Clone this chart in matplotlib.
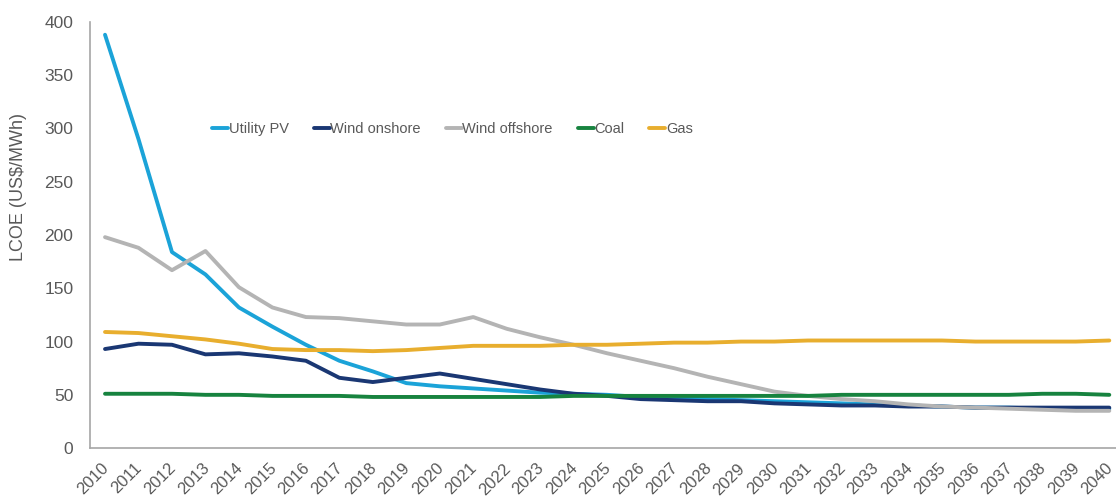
import matplotlib
matplotlib.use("Agg")
import matplotlib.pyplot as plt
from matplotlib.transforms import ScaledTranslation

plt.rcParams["font.family"] = ["Liberation Sans", "DejaVu Sans"]

years = list(range(2010, 2041))
utility_pv = [388, 290, 184, 163, 132, 114, 97, 82, 72, 61, 58, 56, 54, 52, 51, 50, 48, 47, 46,
              45, 44, 43, 42, 41, 40, 39, 38, 38, 37, 37, 37]
wind_onshore = [93, 98, 97, 88, 89, 86, 82, 66, 62, 66, 70, 65, 60, 55, 51, 49, 46, 45, 44,
                44, 42, 41, 40, 40, 39, 39, 38, 38, 38, 38, 38]
wind_offshore = [198, 188, 167, 185, 151, 132, 123, 122, 119, 116, 116, 123, 112, 104, 97, 89,
                 82, 75, 67, 60, 53, 49, 46, 44, 41, 39, 38, 37, 36, 35, 35]
coal = [51, 51, 51, 50, 50, 49, 49, 49, 48, 48, 48, 48, 48, 48, 49, 49, 49, 49, 49, 49, 49, 49,
        50, 50, 50, 50, 50, 50, 51, 51, 50]
gas = [109, 108, 105, 102, 98, 93, 92, 92, 91, 92, 94, 96, 96, 96, 97, 97, 98, 99, 99, 100, 100,
       101, 101, 101, 101, 101, 100, 100, 100, 100, 101]

series = [("Utility PV", utility_pv, "#1ba3d8"),
          ("Wind onshore", wind_onshore, "#1a3773"),
          ("Wind offshore", wind_offshore, "#b4b4b4"),
          ("Coal", coal, "#17833f"),
          ("Gas", gas, "#e8ae2e")]
grey = "#595959"

fig = plt.figure(figsize=(11.16, 4.99), dpi=100)
ax = fig.add_axes([0.0806, 0.102, 0.9194, 0.854])

for lab, vals, col in series:
    ax.plot(years, vals, color=col, lw=2.8, label=lab, solid_capstyle="round")

ax.set_xlim(2009.55, 2040.2)
ax.set_ylim(0, 400)
ax.set_yticks(range(0, 401, 50))
ax.set_xticks(years)
ax.set_xticklabels([str(y) for y in years], rotation=45, ha="right", rotation_mode="anchor")
ax.tick_params(axis="y", length=0, labelsize=12.5, colors=grey, pad=12)
ax.tick_params(axis="x", length=0, labelsize=12, colors=grey, pad=9)
shift = ScaledTranslation(-4 / 100, 0, fig.dpi_scale_trans)
for t in ax.get_xticklabels():
    t.set_transform(t.get_transform() + shift)
for s in ("top", "right"):
    ax.spines[s].set_visible(False)
for s in ("left", "bottom"):
    ax.spines[s].set_color("#a6a6a6")
    ax.spines[s].set_linewidth(1.2)
fig.text(19 / 1116, 1 - 187 / 499, "LCOE (US$/MWh)", rotation=90, ha="center", va="center",
         fontsize=13, color=grey)

ax.legend(ncol=5, frameon=False, fontsize=10.5,
          handlelength=1.1, handletextpad=0.05, columnspacing=1.7, labelcolor=grey,
          borderpad=0, borderaxespad=0,
          loc="center left", bbox_to_anchor=(212 / 1116, 1 - 129 / 499), bbox_transform=fig.transFigure)

fig.savefig("out.png", dpi=100)
